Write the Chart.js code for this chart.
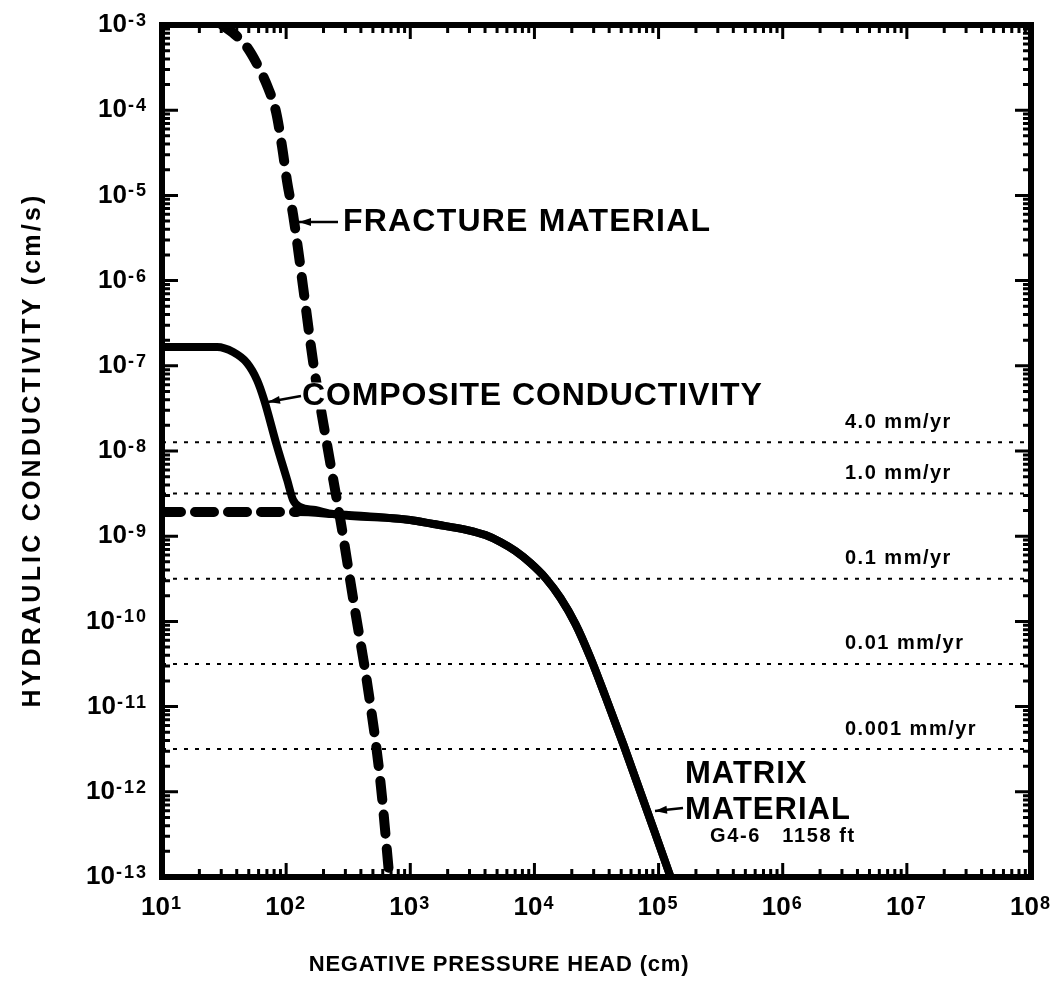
<!DOCTYPE html>
<html>
<head>
<meta charset="utf-8">
<title>Hydraulic conductivity vs negative pressure head</title>
<script src="https://cdn.jsdelivr.net/npm/chart.js@4.4.0/dist/chart.umd.min.js"></script>
<style>
  html, body { margin: 0; padding: 0; background: #fff; }
  #wrap { width: 1058px; height: 1001px; }
</style>
</head>
<body>
<div id="wrap"><canvas id="kChart" width="1058" height="1001"></canvas></div>
<script>
// ===== Data (head in cm, K in cm/s) =====
const fractureHead = [30.5, 37.4, 47.5, 61.7, 71.6, 83.0, 92.8, 101.9, 113.8, 125, 137, 165, 214, 278, 353, 458, 573, 678];
const fractureK    = [1.0e-3, 8.05e-4, 5.7e-4, 2.96e-4, 1.82e-4, 9.5e-5, 3.7e-5, 1.44e-5, 5.9e-6, 2.29e-6, 8.4e-7, 1.11e-7, 1.17e-8, 1.35e-9, 1.56e-10, 1.57e-11, 1.37e-12, 1.0e-13];

const matrixHead = [10, 35.3, 122.7, 239, 1000, 1531, 2884, 4030, 5320, 7030, 9290, 12270, 16220, 21430, 28310, 37410, 52240, 125000];
const matrixK    = [1.92e-9, 1.92e-9, 1.92e-9, 1.82e-9, 1.55e-9, 1.39e-9, 1.18e-9, 1.03e-9, 8.55e-10, 6.7e-10, 4.84e-10, 3.23e-10, 1.88e-10, 9.3e-11, 3.72e-11, 1.3e-11, 3.54e-12, 1.0e-13];
const matrixDashedUntil = 122.7;   // matrix curve is dashed left of this head

const compositeHead = [10, 27.8, 37.4, 48.4, 58.3, 66.5, 83.0, 101.9, 113.8, 129.7, 171.3];
const compositeK    = [1.66e-7, 1.66e-7, 1.45e-7, 1.08e-7, 6.8e-8, 3.97e-8, 1.24e-8, 4.57e-9, 2.66e-9, 2.2e-9, 2.03e-9];

const fluxLabels = ['4.0 mm/yr', '1.0 mm/yr', '0.1 mm/yr', '0.01 mm/yr', '0.001 mm/yr'];
const fluxK      = [1.27e-8, 3.17e-9, 3.17e-10, 3.17e-11, 3.17e-12];

const xTickExps = [1, 2, 3, 4, 5, 6, 7, 8];
const yTickExps = [-3, -4, -5, -6, -7, -8, -9, -10, -11, -12, -13];

const FONT = '"Liberation Sans", Arial, Helvetica, sans-serif';

// ===== Build datasets =====
const toPts = (xs, ys) => xs.map((x, i) => ({ x: x, y: ys[i] }));

// composite = its own head, then it rides on the matrix curve
const compositePts = toPts(compositeHead, compositeK)
    .concat(toPts(matrixHead, matrixK).filter(p => p.x > compositeHead[compositeHead.length - 1]));

const datasets = [
    {
        label: 'Fracture material',
        data: toPts(fractureHead, fractureK),
        borderColor: '#000',
        borderWidth: 10,
        borderDash: [19, 15],
        borderCapStyle: 'round',
        cubicInterpolationMode: 'monotone',
        pointRadius: 0
    },
    {
        label: 'Matrix material',
        data: toPts(matrixHead, matrixK),
        borderColor: '#000',
        borderWidth: 8,
        borderCapStyle: 'round',
        borderJoinStyle: 'round',
        cubicInterpolationMode: 'monotone',
        pointRadius: 0,
        segment: {
            borderDash: ctx => ctx.p1.parsed.x <= matrixDashedUntil ? [19, 14] : [],
            borderWidth: ctx => ctx.p1.parsed.x <= matrixDashedUntil ? 10 : 8
        }
    },
    {
        label: 'Composite conductivity',
        data: compositePts,
        borderColor: '#000',
        borderWidth: 8,
        borderCapStyle: 'round',
        borderJoinStyle: 'round',
        cubicInterpolationMode: 'monotone',
        pointRadius: 0
    }
];

fluxK.forEach((k, i) => {
    datasets.push({
        label: fluxLabels[i],
        data: [{ x: 10, y: k }, { x: 1e8, y: k }],
        borderColor: '#000',
        borderWidth: 2,
        borderDash: [4, 7],
        pointRadius: 0
    });
});

// ===== Helpers =====
function drawPow(ctx, exp, x, y, align) {
    const base = '10', sup = String(exp);
    ctx.font = 'bold 26px ' + FONT;
    ctx.letterSpacing = '0px';
    const wb = ctx.measureText(base).width;
    ctx.font = 'bold 18px ' + FONT;
    ctx.letterSpacing = '2px';
    const ws = ctx.measureText(sup).width;
    let left = align === 'right' ? x - wb - ws - 1 : x - (wb + ws + 1) / 2;
    ctx.textAlign = 'left';
    ctx.font = 'bold 26px ' + FONT;
    ctx.letterSpacing = '0px';
    ctx.textBaseline = 'middle';
    ctx.fillText(base, left, y);
    ctx.font = 'bold 18px ' + FONT;
    ctx.letterSpacing = '2px';
    ctx.textBaseline = 'alphabetic';
    ctx.fillText(sup, left + wb + 1, y + 1);
}

// label text on a white knock-out box, like the original drafting
function drawLabel(ctx, text, x, y, size, spacing, knockout) {
    ctx.font = 'bold ' + size + 'px ' + FONT;
    ctx.letterSpacing = spacing + 'px';
    ctx.textAlign = 'left';
    ctx.textBaseline = 'middle';
    if (knockout) {
        const w = ctx.measureText(text).width;
        ctx.save();
        ctx.fillStyle = '#fff';
        ctx.fillRect(x - 2, y - size * 0.42, w + 2, size * 0.84);
        ctx.restore();
    }
    ctx.fillText(text, x, y);
}

function arrow(ctx, x0, y0, x1, y1) {   // tail -> tip
    const a = Math.atan2(y1 - y0, x1 - x0);
    ctx.lineWidth = 2.5;
    ctx.beginPath();
    ctx.moveTo(x0, y0);
    ctx.lineTo(x1, y1);
    ctx.stroke();
    ctx.beginPath();
    ctx.moveTo(x1, y1);
    ctx.lineTo(x1 - 12 * Math.cos(a) + 4 * Math.sin(a), y1 - 12 * Math.sin(a) - 4 * Math.cos(a));
    ctx.lineTo(x1 - 12 * Math.cos(a) - 4 * Math.sin(a), y1 - 12 * Math.sin(a) + 4 * Math.cos(a));
    ctx.closePath();
    ctx.fill();
}

// ===== Frame, inward log ticks, labels =====
const frameAndLabels = {
    id: 'frameAndLabels',
    afterDatasetsDraw(chart) {
        const { ctx, chartArea: a, scales: { x, y } } = chart;
        ctx.save();
        ctx.strokeStyle = '#000';
        ctx.fillStyle = '#000';

        // curve labels with leader arrows (drawn first so the frame stays on top)
        drawLabel(ctx, 'FRACTURE MATERIAL', 343, 222, 32, 1.2, true);
        arrow(ctx, 338, 222, 299, 222);
        drawLabel(ctx, 'COMPOSITE CONDUCTIVITY', 302, 396, 32, 0.9, true);
        arrow(ctx, 301, 396, 268, 402);
        drawLabel(ctx, 'MATRIX', 685, 774, 31, 1, true);
        drawLabel(ctx, 'MATERIAL', 685, 810, 31, 1, true);
        arrow(ctx, 683, 808, 655, 811);
        drawLabel(ctx, 'G4-6   1158 ft', 710, 836, 20, 1.6, false);

        // flux labels just above their dotted lines
        fluxK.forEach((k, i) => {
            drawLabel(ctx, fluxLabels[i], 845, y.getPixelForValue(k) - 20, 20, 1.5, false);
        });

        // inward ticks on all four sides
        ctx.lineWidth = 3;
        ctx.beginPath();
        for (let d = xTickExps[0]; d < xTickExps[xTickExps.length - 1]; d++) {
            for (let m = 1; m <= 9; m++) {
                const px = x.getPixelForValue(m * Math.pow(10, d));
                const len = m === 1 ? 14 : 8;
                ctx.moveTo(px, a.bottom); ctx.lineTo(px, a.bottom - len);
                ctx.moveTo(px, a.top); ctx.lineTo(px, a.top + len);
            }
        }
        const yLo = yTickExps[yTickExps.length - 1], yHi = yTickExps[0];
        for (let d = yLo; d < yHi; d++) {
            for (let m = 1; m <= 9; m++) {
                const py = y.getPixelForValue(m * Math.pow(10, d));
                const len = m === 1 ? 16 : 8;
                ctx.moveTo(a.left, py); ctx.lineTo(a.left + len, py);
                ctx.moveTo(a.right, py); ctx.lineTo(a.right - len, py);
            }
        }
        ctx.stroke();

        // heavy frame
        ctx.lineWidth = 6;
        ctx.strokeRect(a.left, a.top, a.right - a.left, a.bottom - a.top);

        // tick labels
        xTickExps.forEach(e => drawPow(ctx, e, x.getPixelForValue(Math.pow(10, e)), a.bottom + 31, 'center'));
        yTickExps.forEach(e => drawPow(ctx, e, a.left - 14, y.getPixelForValue(Math.pow(10, e)), 'right'));

        // axis titles
        ctx.font = 'bold 22px ' + FONT;
        ctx.letterSpacing = '0.8px';
        ctx.textAlign = 'center';
        ctx.textBaseline = 'middle';
        ctx.fillText('NEGATIVE PRESSURE HEAD (cm)', 499, 965);

        ctx.save();
        ctx.translate(33, 450);
        ctx.rotate(-Math.PI / 2);
        ctx.font = 'bold 25px ' + FONT;
        ctx.letterSpacing = '3.2px';
        ctx.fillText('HYDRAULIC CONDUCTIVITY (cm/s)', 0, 0);
        ctx.restore();

        ctx.restore();
    }
};

// ===== Chart =====
const ctx = document.getElementById('kChart').getContext('2d');
const kChart = new Chart(ctx, {
    type: 'line',
    data: { datasets: datasets },
    options: {
        responsive: false,
        animation: false,
        devicePixelRatio: 1,
        layout: { padding: { left: 0, top: 25, right: 27, bottom: 0 } },
        scales: {
            x: {
                type: 'logarithmic',
                min: 10,
                max: 1e8,
                grid: { display: false },
                border: { display: false },
                ticks: { display: false },
                afterFit: s => { s.height = 124; }
            },
            y: {
                type: 'logarithmic',
                min: 1e-13,
                max: 1e-3,
                grid: { display: false },
                border: { display: false },
                ticks: { display: false },
                afterFit: s => { s.width = 162; }
            }
        },
        plugins: {
            legend: { display: false },
            tooltip: { enabled: false }
        }
    },
    plugins: [frameAndLabels]
});
</script>
</body>
</html>
